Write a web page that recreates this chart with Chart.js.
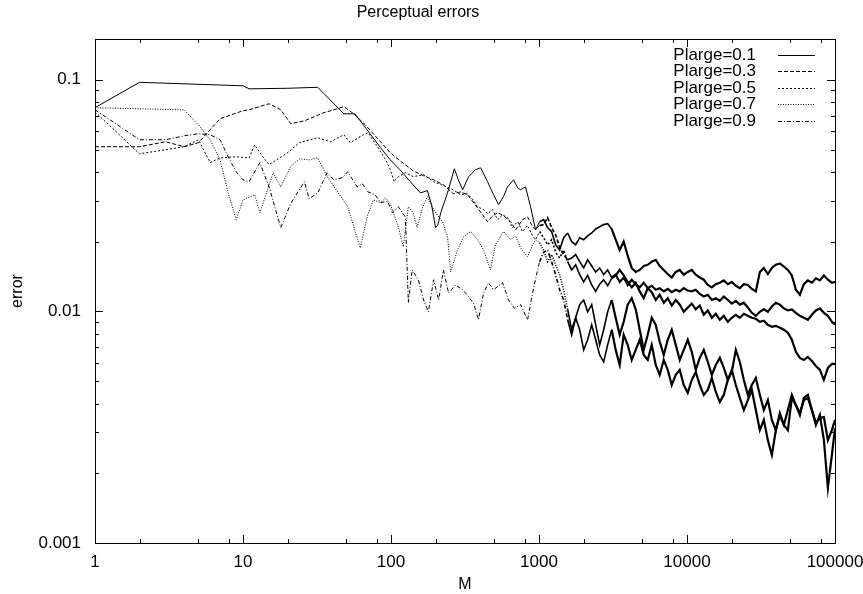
<!DOCTYPE html>
<html>
<head>
<meta charset="utf-8">
<title>Perceptual errors</title>
<script src="https://cdn.jsdelivr.net/npm/chart.js@4.4.1/dist/chart.umd.min.js"></script>
<style>
  html, body { margin: 0; padding: 0; background: #fff; }
  canvas { display: block; }
</style>
</head>
<body>
<canvas id="errChart" width="863" height="594"></canvas>
<script>
// names in the key
const seriesLabels = ['Plarge=0.1', 'Plarge=0.3', 'Plarge=0.5', 'Plarge=0.7', 'Plarge=0.9'];

// M values shared by every series in the dense part (M >= 1000)
const tailM = [
  1010, 1074, 1143, 1217, 1295, 1378, 1467, 1562, 1662, 1769,
  1883, 2004, 2132, 2270, 2415, 2570, 2735, 2911, 3098, 3297,
  3509, 3735, 3975, 4231, 4503, 4792, 5100, 5428, 5777, 6148,
  6543, 6964, 7411, 7888, 8395, 8934, 9508, 10120, 10770, 11460,
  12200, 12980, 13820, 14710, 15650, 16660, 17730, 18870, 20080, 21370,
  22750, 24210, 25770, 27420, 29180, 31060, 33050, 35180, 37440, 39840,
  42400, 45130, 48030, 51110, 54400, 57890, 61610, 65570, 69780, 74270,
  79040, 84120, 89520, 95280, 100000
];

// Plarge=0.1
const headM01 = [1, 2, 10, 11, 20, 32, 48, 57, 69, 85, 99, 115, 135, 158, 176, 188, 200, 207, 217, 241,
  268, 285, 305, 334, 372, 403, 449, 493, 533, 576, 613, 673, 717, 751, 811, 877, 948];
const headE01 = [0.0758, 0.0975, 0.0942, 0.0914, 0.0919, 0.0928, 0.0713, 0.0713, 0.0608, 0.0509,
  0.0451, 0.0409, 0.0363, 0.0325, 0.0332, 0.0289, 0.0230, 0.0235, 0.0267, 0.0325,
  0.0413, 0.0370, 0.0335, 0.0381, 0.0409, 0.0417, 0.0363, 0.0319, 0.0289, 0.0313,
  0.0345, 0.0370, 0.0342, 0.0335, 0.0345, 0.0283, 0.0225];
const tailE01 = [
  0.0244, 0.0249, 0.0230, 0.0221, 0.0194, 0.0184, 0.0208, 0.0218, 0.0200, 0.0194,
  0.0208, 0.0204, 0.0212, 0.0218, 0.0227, 0.0232, 0.0237, 0.0239, 0.0227, 0.0204,
  0.0184, 0.0200, 0.0174, 0.0154, 0.0148, 0.0151, 0.0157, 0.0159, 0.0164, 0.0167,
  0.0157, 0.0151, 0.0145, 0.0140, 0.0148, 0.0151, 0.0144, 0.0148, 0.0151, 0.0144,
  0.0140, 0.0137, 0.0130, 0.0127, 0.0131, 0.0133, 0.0136, 0.0131, 0.0134, 0.0129,
  0.0126, 0.0131, 0.0130, 0.0125, 0.0122, 0.0148, 0.0154, 0.0145, 0.0154, 0.0159,
  0.0161, 0.0156, 0.0151, 0.0143, 0.0124, 0.0118, 0.0131, 0.0136, 0.0133, 0.0139,
  0.0136, 0.0143, 0.0137, 0.0133, 0.0134
];

// Plarge=0.3
const headM03 = [1, 2, 3, 4, 5, 7, 10, 11, 15, 18, 21, 26, 35, 48, 56, 67, 85, 99, 115, 141,
  166, 194, 226, 264, 295, 329, 384, 449, 485, 525, 576, 643, 695, 774, 837, 905, 948];
const headE03 = [0.0514, 0.0514, 0.0540, 0.0514, 0.0535, 0.0679, 0.0735, 0.0742, 0.0788, 0.0742,
  0.0646, 0.0665, 0.0720, 0.0765, 0.0713, 0.0639, 0.0540, 0.0484, 0.0447, 0.0405,
  0.0385, 0.0370, 0.0352, 0.0322, 0.0328, 0.0319, 0.0280, 0.0244, 0.0258, 0.0267,
  0.0259, 0.0244, 0.0225, 0.0249, 0.0256, 0.0232, 0.0225];
const tailE03 = [
  0.0235, 0.0237, 0.0254, 0.0230, 0.0214, 0.0190, 0.0176, 0.0167, 0.0170, 0.0176,
  0.0164, 0.0154, 0.0167, 0.0157, 0.0148, 0.0154, 0.0144, 0.0151, 0.0140, 0.0144,
  0.0134, 0.0140, 0.0130, 0.0137, 0.0131, 0.0127, 0.0133, 0.0126, 0.0129, 0.0124,
  0.0126, 0.0122, 0.0125, 0.0121, 0.0124, 0.0122, 0.0126, 0.0123, 0.0122, 0.0124,
  0.0119, 0.0116, 0.0118, 0.0112, 0.0114, 0.0111, 0.0116, 0.0112, 0.0108, 0.0111,
  0.0107, 0.0109, 0.0104, 0.00986, 0.00957, 0.00996, 0.0102, 0.00996, 0.0105, 0.0109,
  0.0107, 0.0103, 0.0101, 0.0102, 0.00986, 0.00957, 0.00939, 0.00920, 0.00967, 0.0101,
  0.0103, 0.00986, 0.00957, 0.00902, 0.00875
];

// Plarge=0.5
const headM05 = [1, 2, 3, 4, 5, 6, 7, 9, 11, 12, 13, 15, 20, 24, 32, 39, 48, 53, 65, 70,
  81, 92, 99, 105, 110, 125, 141, 166, 194, 226, 264, 295, 329, 358, 384, 422, 449, 485, 525, 567,
  613, 663, 717, 774, 837, 905, 948];
const headE05 = [0.0727, 0.0479, 0.0499, 0.0514, 0.0551, 0.0439, 0.0460, 0.0465, 0.0460, 0.0524,
  0.0484, 0.0430, 0.0484, 0.0535, 0.0562, 0.0540, 0.0579, 0.0535, 0.0579, 0.0591,
  0.0514, 0.0451, 0.0409, 0.0363, 0.0378, 0.0397, 0.0382, 0.0389, 0.0363, 0.0349,
  0.0335, 0.0319, 0.0322, 0.0303, 0.0283, 0.0275, 0.0264, 0.0275, 0.0249, 0.0261,
  0.0254, 0.0230, 0.0244, 0.0221, 0.0235, 0.0212, 0.0204];
const tailE05 = [
  0.0221, 0.0208, 0.0194, 0.0204, 0.0180, 0.0170, 0.0184, 0.0164, 0.0151, 0.0159,
  0.0144, 0.0134, 0.0143, 0.0130, 0.0122, 0.0131, 0.0137, 0.0129, 0.0139, 0.0143,
  0.0151, 0.0143, 0.0134, 0.0127, 0.0133, 0.0122, 0.0114, 0.0126, 0.0121, 0.0112,
  0.0118, 0.0109, 0.0114, 0.0106, 0.0112, 0.0107, 0.00996, 0.0104, 0.0108, 0.0102,
  0.0106, 0.00967, 0.0101, 0.00938, 0.00976, 0.00920, 0.00957, 0.00902, 0.00938, 0.00967,
  0.00938, 0.00976, 0.00957, 0.00938, 0.00929, 0.00902, 0.00911, 0.00875, 0.00858, 0.00866,
  0.00850, 0.00833, 0.00809, 0.00754, 0.00669, 0.00630, 0.00617, 0.00636, 0.00611, 0.00581,
  0.00559, 0.00506, 0.00570, 0.00593, 0.00593
];

// Plarge=0.7
const headM07 = [1, 4, 5, 6, 7, 8, 9, 10, 12, 13, 16, 18, 21, 24, 28, 32, 37, 44, 51, 56,
  62, 69, 76, 85, 92, 99, 112, 121, 131, 141, 150, 163, 176, 194, 224, 241, 253, 281, 309, 346,
  384, 422, 470, 508, 576, 643, 695, 751, 837, 905, 948];
const headE07 = [0.0757, 0.0742, 0.0639, 0.0551, 0.0451, 0.0319, 0.0249, 0.0303, 0.0319, 0.0267,
  0.0397, 0.0345, 0.0422, 0.0456, 0.0451, 0.0460, 0.0382, 0.0325, 0.0283, 0.0232,
  0.0188, 0.0256, 0.0303, 0.0295, 0.0309, 0.0291, 0.0232, 0.0190, 0.0283, 0.0267,
  0.0230, 0.0280, 0.0313, 0.0275, 0.0242, 0.0210, 0.0148, 0.0184, 0.0210, 0.0221,
  0.0204, 0.0184, 0.0151, 0.0194, 0.0221, 0.0204, 0.0212, 0.0188, 0.0172, 0.0194,
  0.0204];
const tailE07 = [
  0.0198, 0.0184, 0.0164, 0.0176, 0.0159, 0.0144, 0.0124, 0.0102, 0.00833, 0.00938,
  0.0107, 0.0112, 0.00996, 0.0107, 0.00875, 0.00717, 0.00833, 0.00996, 0.0112, 0.00938,
  0.00792, 0.00902, 0.0107, 0.0114, 0.0102, 0.00833, 0.00682, 0.00792, 0.00938, 0.00875,
  0.00739, 0.00649, 0.00754, 0.00833, 0.00717, 0.00617, 0.00682, 0.00754, 0.00669, 0.00559,
  0.00630, 0.00682, 0.00605, 0.00532, 0.00587, 0.00630, 0.00570, 0.00506, 0.00548, 0.00682,
  0.00605, 0.00506, 0.00436, 0.00481, 0.00516, 0.00436, 0.00375, 0.00414, 0.00340, 0.00307,
  0.00364, 0.00323, 0.00307, 0.00423, 0.00394, 0.00364, 0.00414, 0.00423, 0.00375, 0.00330,
  0.00347, 0.00350, 0.00278, 0.00307, 0.00340
];

// Plarge=0.9
const headM09 = [1, 2, 3, 4, 5, 6, 7, 8, 9, 10, 11, 13, 15, 18, 21, 26, 28, 32, 37, 41,
  47, 51, 59, 64, 70, 78, 85, 95, 102, 112, 125, 131, 139, 153, 166, 179, 194, 210, 226, 245,
  273, 305, 334, 364, 390, 422, 456, 493, 567, 623, 684, 751, 837, 905, 978];
const headE09 = [0.0742, 0.0551, 0.0551, 0.0573, 0.0585, 0.0579, 0.0551, 0.0460, 0.0401, 0.0370,
  0.0363, 0.0439, 0.0345, 0.0230, 0.0292, 0.0363, 0.0306, 0.0325, 0.0397, 0.0370,
  0.0378, 0.0401, 0.0345, 0.0356, 0.0328, 0.0319, 0.0295, 0.0298, 0.0267, 0.0283,
  0.0256, 0.0109, 0.0151, 0.0137, 0.0112, 0.00996, 0.0137, 0.0112, 0.0151, 0.0120,
  0.0130, 0.0124, 0.0116, 0.0107, 0.00920, 0.0120, 0.0133, 0.0124, 0.0133, 0.0112,
  0.0103, 0.0107, 0.00920, 0.0120, 0.0151];
const tailE09 = [
  0.0164, 0.0180, 0.0184, 0.0164, 0.0144, 0.0124, 0.0112, 0.00920, 0.00792, 0.00938,
  0.00833, 0.00682, 0.00754, 0.00875, 0.00754, 0.00649, 0.00605, 0.00717, 0.00833, 0.00682,
  0.00587, 0.00792, 0.00717, 0.00617, 0.00682, 0.00754, 0.00649, 0.00617, 0.00717, 0.00587,
  0.00532, 0.00617, 0.00559, 0.00481, 0.00532, 0.00559, 0.00481, 0.00445, 0.00506, 0.00548,
  0.00481, 0.00436, 0.00458, 0.00516, 0.00449, 0.00406, 0.00436, 0.00506, 0.00559, 0.00481,
  0.00423, 0.00375, 0.00414, 0.00458, 0.00375, 0.00307, 0.00340, 0.00278, 0.00240, 0.00307,
  0.00357, 0.00323, 0.00375, 0.00436, 0.00394, 0.00357, 0.00423, 0.00436, 0.00375, 0.00323,
  0.00357, 0.00278, 0.00173, 0.00240, 0.00313
];

// tick positions inside each decade
const xTickMults = [1, 2, 5, 8];
const yTickMults = [1, 2, 3, 4, 5, 6, 7, 8, 9];

const FONT = '"Liberation Sans", Arial, Helvetica, sans-serif';
// gnuplot line types 1..5
const dashes = [[], [4, 2], [2, 2], [1, 1.5], [4, 2, 1, 2]];

const heads = [
  [headM01, headE01, tailE01],
  [headM03, headE03, tailE03],
  [headM05, headE05, tailE05],
  [headM07, headE07, tailE07],
  [headM09, headE09, tailE09]
];

function toPoints(ms, es) {
  return ms.map((m, i) => ({ x: m, y: es[i] }));
}

function isDecade(v) {
  const l = Math.log10(v);
  return Math.abs(l - Math.round(l)) < 1e-6;
}

function logTicks(lo, hi, mults) {
  const out = [];
  for (let e = Math.floor(Math.log10(lo)); e <= Math.ceil(Math.log10(hi)); e++) {
    for (const m of mults) {
      const v = +(m * Math.pow(10, e)).toPrecision(6);
      if (v >= lo * 0.9999 && v <= hi * 1.0001) out.push({ value: v });
    }
  }
  return out;
}

// border, inward ticks on all four sides, title and key, drawn the gnuplot way
const gnuplotFrame = {
  id: 'gnuplotFrame',
  afterDatasetsDraw(chart) {
    const { ctx, chartArea: a, scales: { x, y } } = chart;
    ctx.save();
    ctx.strokeStyle = '#000';
    ctx.lineWidth = 1;
    ctx.setLineDash([]);

    ctx.beginPath();
    x.ticks.forEach(t => {
      const px = Math.round(x.getPixelForValue(t.value)) + 0.5;
      const len = isDecade(t.value) ? 8 : 4;
      ctx.moveTo(px, a.bottom); ctx.lineTo(px, a.bottom - len);
      ctx.moveTo(px, a.top); ctx.lineTo(px, a.top + len);
    });
    y.ticks.forEach(t => {
      const py = Math.round(y.getPixelForValue(t.value)) + 0.5;
      const len = isDecade(t.value) ? 8 : 4;
      ctx.moveTo(a.left, py); ctx.lineTo(a.left + len, py);
      ctx.moveTo(a.right, py); ctx.lineTo(a.right - len, py);
    });
    ctx.stroke();
    ctx.strokeRect(Math.round(a.left) + 0.5, Math.round(a.top) + 0.5,
      Math.round(a.right - a.left), Math.round(a.bottom - a.top));

    ctx.fillStyle = '#000';
    ctx.font = '16px ' + FONT;
    ctx.textBaseline = 'middle';
    ctx.textAlign = 'center';
    ctx.fillText('Perceptual errors', 418, 13);

    // key
    ctx.font = '17px ' + FONT;
    ctx.textAlign = 'right';
    chart.data.datasets.forEach((ds, i) => {
      const ky = Math.round(a.top + 16 + i * 16.4) + 0.5;
      ctx.fillText(ds.label, a.right - 79, ky);
      ctx.setLineDash(ds.borderDash);
      ctx.beginPath();
      ctx.moveTo(a.right - 57, ky);
      ctx.lineTo(a.right - 20, ky);
      ctx.stroke();
    });
    ctx.restore();
  }
};

new Chart(document.getElementById('errChart'), {
  type: 'line',
  data: {
    datasets: seriesLabels.map((label, i) => ({
      label,
      data: toPoints(heads[i][0].concat(tailM), heads[i][1].concat(heads[i][2])),
      borderColor: '#000',
      borderWidth: 1,
      borderDash: dashes[i],
      pointRadius: 0,
      tension: 0,
      fill: false,
      // past a few thousand the real curves are so dense they read as thick solid bands
      segment: {
        borderDash: c => (c.p0.parsed.x >= 1500 ? [] : undefined),
        borderWidth: c => (c.p0.parsed.x >= 3000 ? 2.2 : c.p0.parsed.x >= 1000 ? 1.6 : undefined)
      }
    }))
  },
  options: {
    responsive: false,
    animation: false,
    devicePixelRatio: 1,
    layout: { padding: { top: 39, right: 0, left: 0, bottom: 0 } },
    plugins: { legend: { display: false }, tooltip: { enabled: false } },
    scales: {
      x: {
        type: 'logarithmic',
        min: 1,
        max: 100000,
        afterBuildTicks: s => { s.ticks = logTicks(1, 100000, xTickMults); },
        afterFit: s => { s.height = 51; s.paddingLeft = 0; s.paddingRight = 28; },
        grid: { display: false, drawTicks: false },
        border: { display: false },
        ticks: {
          autoSkip: false,
          maxRotation: 0,
          padding: 9,
          color: '#000',
          font: { family: FONT, size: 17 },
          callback: v => (isDecade(v) ? String(v) : '')
        },
        title: { display: true, text: 'M', color: '#000', font: { family: FONT, size: 16 }, padding: { top: 0, bottom: 0 } }
      },
      y: {
        type: 'logarithmic',
        min: 0.001,
        max: 0.15,
        afterBuildTicks: s => { s.ticks = logTicks(0.001, 0.15, yTickMults); },
        afterFit: s => { s.width = 95; s.paddingTop = 0; s.paddingBottom = 0; },
        grid: { display: false, drawTicks: false },
        border: { display: false },
        ticks: {
          autoSkip: false,
          padding: 14,
          color: '#000',
          font: { family: FONT, size: 17 },
          callback: v => (isDecade(v) ? String(v) : '')
        },
        title: { display: true, text: 'error', color: '#000', font: { family: FONT, size: 16 }, padding: { top: 8, bottom: 0 } }
      }
    }
  },
  plugins: [gnuplotFrame]
});
</script>
</body>
</html>
